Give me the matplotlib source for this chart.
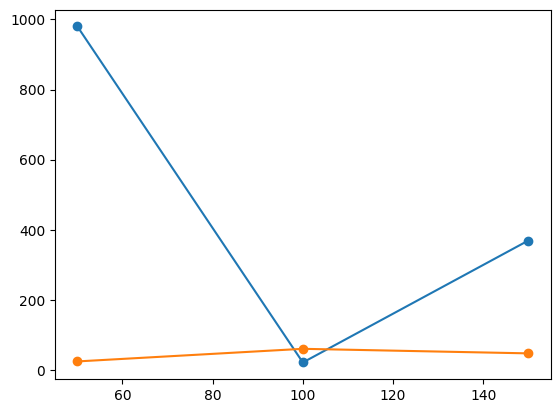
import matplotlib
matplotlib.use("Agg")
import matplotlib.pyplot as plt

x = [50, 100, 150]
blue = [980, 21, 369]
orange = [24, 60, 47]

plt.plot(x, blue, marker='o')
plt.plot(x, orange, marker='o')
plt.savefig('out.png', dpi=100, bbox_inches='tight')
